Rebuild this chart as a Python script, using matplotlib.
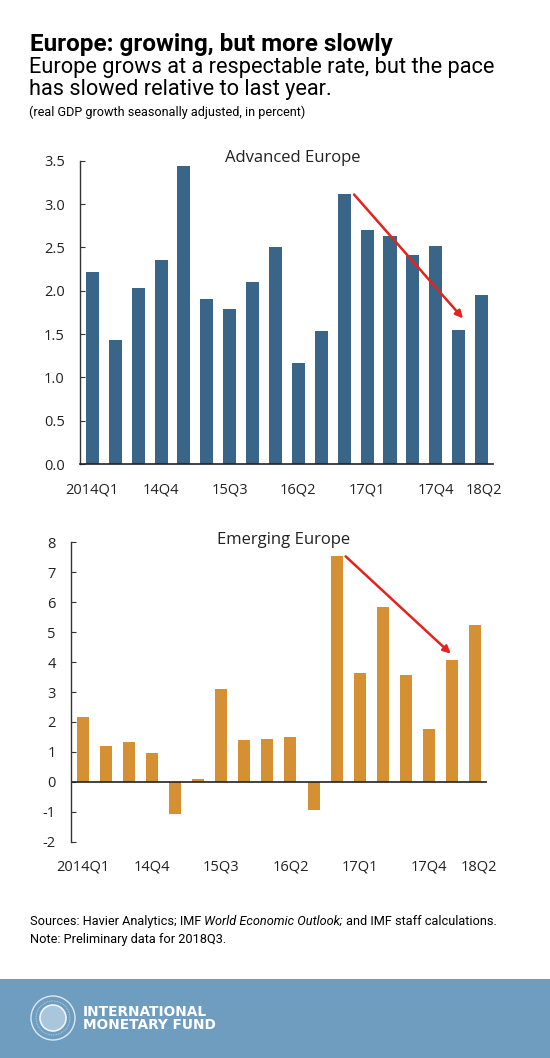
import matplotlib
matplotlib.use("Agg")
import matplotlib.pyplot as plt
from matplotlib.patches import Rectangle, Circle

# ---------------- data ----------------
quarters = ["2014Q1", "14Q2", "14Q3", "14Q4", "15Q1", "15Q2", "15Q3", "15Q4", "16Q1",
            "16Q2", "16Q3", "16Q4", "17Q1", "17Q2", "17Q3", "17Q4", "18Q1", "18Q2"]
advanced = [2.21, 1.43, 2.03, 2.35, 3.44, 1.90, 1.79, 2.10, 2.50,
            1.17, 1.53, 3.11, 2.70, 2.63, 2.41, 2.52, 1.55, 1.95]
emerging = [2.16, 1.19, 1.33, 0.95, -1.06, 0.09, 3.10, 1.41, 1.44,
            1.49, -0.95, 7.54, 3.65, 5.83, 3.57, 1.75, 4.08, 5.24]
shown_tick_idx = [0, 3, 6, 9, 12, 15]
shown_tick_labels = ["2014Q1", "14Q4", "15Q3", "16Q2", "17Q1", "17Q4"]
last_label = "18Q2"
adv_yticks = [0.0, 0.5, 1.0, 1.5, 2.0, 2.5, 3.0, 3.5]
emg_yticks = [-2, -1, 0, 1, 2, 3, 4, 5, 6, 7, 8]
adv_arrow = ((11.43, 3.11), (16.19, 1.68))
emg_arrow = ((11.39, 7.53), (15.94, 4.28))

title = "Europe: growing, but more slowly"
subtitle_lines = ["Europe grows at a respectable rate, but the pace",
                  "has slowed relative to last year."]
units = "(real GDP growth seasonally adjusted, in percent)"
source_parts = [("Sources: Havier Analytics; IMF ", "normal"),
                ("World Economic Outlook;", "italic"),
                (" and IMF staff calculations.", "normal")]
note = "Note: Preliminary data for 2018Q3."

# ---------------- style ----------------
plt.rcParams["axes.unicode_minus"] = False
W, H = 550, 1058
DPI = 100
fig = plt.figure(figsize=(W / DPI, H / DPI), dpi=DPI)
fig.patch.set_facecolor("white")

BLUE = "#386588"
ORANGE = "#D69034"
RED = "#E5221D"
TXT = "#222222"
CF = "Open Sans"


def fy(py):
    return 1 - py / H


def fx(px):
    return px / W


# header
fig.text(fx(30), fy(50.5), title, fontfamily="Roboto", fontweight="bold",
         fontsize=17.5, color="black", va="baseline")
fig.text(fx(29), fy(72.5), subtitle_lines[0], fontfamily="Roboto", fontsize=15.7,
         color="black", va="baseline")
fig.text(fx(29), fy(95.5), subtitle_lines[1], fontfamily="Roboto", fontsize=15.7,
         color="black", va="baseline")
fig.text(fx(29), fy(115.7), units, fontfamily="Roboto", fontsize=9.1,
         color="black", va="baseline")


def style_axes(ax, yticks, fmt):
    for s in ["top", "right"]:
        ax.spines[s].set_visible(False)
    ax.spines["left"].set_color("#333333")
    ax.spines["left"].set_linewidth(1.0)
    ax.set_yticks(yticks)
    ax.set_yticklabels([fmt(v) for v in yticks], fontfamily=CF, fontsize=10.5, color=TXT)
    ax.tick_params(axis="y", direction="in", length=3.5, width=0.8, color="#333333", pad=11)
    ax.tick_params(axis="x", length=0, pad=13)
    ax.set_xticks(shown_tick_idx)
    ax.set_xticklabels(shown_tick_labels, fontfamily=CF, fontsize=10.5, color=TXT)


x = list(range(len(quarters)))

# ---------- Advanced Europe ----------
ax1 = fig.add_axes([fx(80), fy(464), 413 / W, 303.3 / H])
ax1.bar(x, advanced, width=0.57, color=BLUE)
ax1.set_xlim(-0.54, 17.5)
ax1.set_ylim(0, 3.5)
style_axes(ax1, adv_yticks, lambda v: f"{v:.1f}")
ax1.spines["bottom"].set_color("#222222")
ax1.spines["bottom"].set_linewidth(1.2)
ax1.annotate(last_label, xy=(17, 0), xycoords=("data", "axes fraction"),
             xytext=(1.5, -19), textcoords="offset points", ha="center", va="center",
             fontfamily=CF, fontsize=10.5, color=TXT, annotation_clip=False)
ax1.text(0.515, 1.009, "Advanced Europe", transform=ax1.transAxes, ha="center",
         va="center", fontfamily=CF, fontsize=12, color=TXT)
ax1.annotate("", xy=adv_arrow[1], xytext=adv_arrow[0],
             arrowprops=dict(arrowstyle="-|>", color=RED, lw=1.8, mutation_scale=11,
                             shrinkA=0, shrinkB=0))

# ---------- Emerging Europe ----------
ax2 = fig.add_axes([fx(71), fy(841.7), 416 / W, 299.4 / H])
ax2.bar(x, emerging, width=0.52, color=ORANGE)
ax2.set_xlim(-0.5, 17.51)
ax2.set_ylim(-2, 8)
style_axes(ax2, emg_yticks, lambda v: f"{v:d}")
ax2.spines["bottom"].set_visible(False)
ax2.axhline(0, color="#222222", lw=1.2)
ax2.annotate(last_label, xy=(17, 0), xycoords=("data", "axes fraction"),
             xytext=(3, -18), textcoords="offset points", ha="center", va="center",
             fontfamily=CF, fontsize=10.5, color=TXT, annotation_clip=False)
ax2.text(0.51, 1.008, "Emerging Europe", transform=ax2.transAxes, ha="center",
         va="center", fontfamily=CF, fontsize=12, color=TXT)
ax2.annotate("", xy=emg_arrow[1], xytext=emg_arrow[0],
             arrowprops=dict(arrowstyle="-|>", color=RED, lw=1.8, mutation_scale=11,
                             shrinkA=0, shrinkB=0))

# ---------- footer ----------
renderer = fig.canvas.get_renderer()
xpos = 30.0
for txt, style in source_parts:
    t = fig.text(fx(xpos), fy(925), txt, fontfamily="Roboto", fontstyle=style,
                 fontsize=9.2, color="black", va="baseline")
    bb = t.get_window_extent(renderer=renderer)
    xpos += bb.width
fig.text(fx(30), fy(943.5), note, fontfamily="Roboto", fontsize=9.2,
         color="black", va="baseline")

band = Rectangle((0, 0), 1, fy(979), transform=fig.transFigure,
                 facecolor="#6E9DC0", edgecolor="none", zorder=0)
fig.patches.append(band)

# logo seal
seal_outer = Circle((53, H - 1018), 22, transform=None, facecolor="none",
                    edgecolor="#DCE8F1", lw=1.0)
fig.patches.append(seal_outer)
seal_ring = Circle((53, H - 1018), 17, transform=None, facecolor="none",
                   edgecolor="#C9DBE8", lw=0.6, ls=(0, (1, 1)))
fig.patches.append(seal_ring)
seal_inner = Circle((53, H - 1018), 13, transform=None, facecolor="#A9C6DC",
                    edgecolor="#EEF4F8", lw=1.2)
fig.patches.append(seal_inner)

fig.text(fx(83), fy(1015.7), "INTERNATIONAL", fontfamily="DejaVu Sans",
         fontweight="bold", fontsize=9.9, color="white", va="baseline")
fig.text(fx(83), fy(1029), "MONETARY FUND", fontfamily="DejaVu Sans",
         fontweight="bold", fontsize=9.9, color="white", va="baseline")

fig.savefig("out.png", dpi=DPI)
